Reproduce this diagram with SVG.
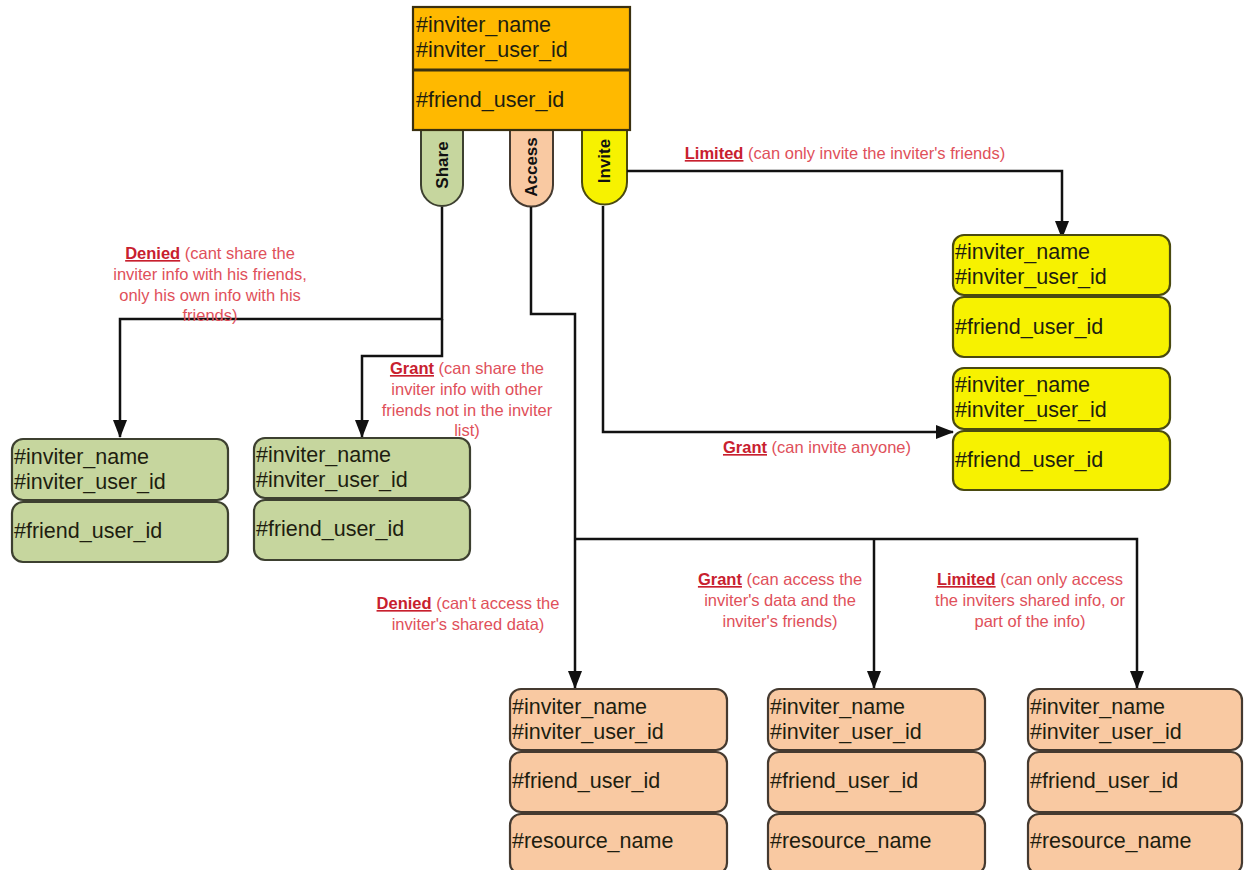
<svg xmlns="http://www.w3.org/2000/svg" width="1246" height="870" viewBox="0 0 1246 870">
<style>
.t{font-family:"Liberation Sans",Arial,sans-serif;font-size:21.5px;fill:#1e1e10}
.lb{font-family:"Liberation Sans",Arial,sans-serif;font-size:16.5px;fill:#e0505a;text-anchor:middle}
.k{font-weight:bold;fill:#c8202e;text-decoration:underline}
.pt{font-family:"Liberation Sans",Arial,sans-serif;font-size:17px;font-weight:bold;fill:#111;text-anchor:middle}
.g{fill:#c6d69e;stroke:#3d4030;stroke-width:2.2}
.y{fill:#f7f200;stroke:#4a4a10;stroke-width:2.2}
.p{fill:#f9c9a2;stroke:#453a30;stroke-width:2.2}
.c{fill:none;stroke:#111;stroke-width:2.5}
</style>
<defs>
<marker id="ah" viewBox="0 0 18 14" refX="17" refY="7" markerWidth="18" markerHeight="14" markerUnits="userSpaceOnUse" orient="auto">
<path d="M0,0 L18,7 L0,14 z" fill="#111"/>
</marker>
</defs>
<rect width="1246" height="870" fill="#fff"/>

<g id="pills">
<path d="M421,120 V185 A21,21 0 0 0 463,185 V120 Z" fill="#c6d69e" stroke="#3d4030" stroke-width="2"/>
<path d="M510,120 V185 A21.5,21.5 0 0 0 553,185 V120 Z" fill="#f9c9a2" stroke="#453a30" stroke-width="2"/>
<path d="M582,120 V182 A22.5,22.5 0 0 0 627,182 V120 Z" fill="#f7f200" stroke="#4a4a10" stroke-width="2"/>
<text class="pt" transform="translate(448,165) rotate(-90)">Share</text>
<text class="pt" transform="translate(537,167) rotate(-90)">Access</text>
<text class="pt" transform="translate(610,161) rotate(-90)">Invite</text>
</g>

<g id="main">
<rect x="413" y="7" width="217" height="123" fill="#ffb900" stroke="#3a3010" stroke-width="2.2"/>
<line x1="413" y1="70" x2="630" y2="70" stroke="#3a3010" stroke-width="3"/>
<text class="t" x="416" y="32">#inviter_name</text>
<text class="t" x="416" y="57">#inviter_user_id</text>
<text class="t" x="416" y="107">#friend_user_id</text>
</g>

<g id="connectors">
<path class="c" d="M442,207 V319 H120 V437" marker-end="url(#ah)"/>
<path class="c" d="M442,319 V356 H362 V437" marker-end="url(#ah)"/>
<path class="c" d="M531,207 V314 H575 V688" marker-end="url(#ah)"/>
<path class="c" d="M575,539 H1137 V688" marker-end="url(#ah)"/>
<path class="c" d="M874,539 V688" marker-end="url(#ah)"/>
<path class="c" d="M627,171 H1062 V238" marker-end="url(#ah)"/>
<path class="c" d="M603,206 V432 H953" marker-end="url(#ah)"/>
</g>

<g id="labels">
<text class="lb" x="845" y="159"><tspan class="k">Limited</tspan> (can only invite the inviter's friends)</text>
<text class="lb" x="210" y="259"><tspan class="k">Denied</tspan> (cant share the</text>
<text class="lb" x="210" y="280">inviter info with his friends,</text>
<text class="lb" x="210" y="301">only his own info with his</text>
<text class="lb" x="210" y="321">friends)</text>
<text class="lb" x="467" y="374"><tspan class="k">Grant</tspan> (can share the</text>
<text class="lb" x="467" y="395">inviter info with other</text>
<text class="lb" x="467" y="416">friends not in the inviter</text>
<text class="lb" x="467" y="436">list)</text>
<text class="lb" x="817" y="453"><tspan class="k">Grant</tspan> (can invite anyone)</text>
<text class="lb" x="468" y="609"><tspan class="k">Denied</tspan> (can't access the</text>
<text class="lb" x="468" y="630">inviter's shared data)</text>
<text class="lb" x="780" y="585"><tspan class="k">Grant</tspan> (can access the</text>
<text class="lb" x="780" y="606">inviter's data and the</text>
<text class="lb" x="780" y="627">inviter's friends)</text>
<text class="lb" x="1030" y="585"><tspan class="k">Limited</tspan> (can only access</text>
<text class="lb" x="1030" y="606">the inviters shared info, or</text>
<text class="lb" x="1030" y="627">part of the info)</text>
</g>

<g id="share-denied">
<rect class="g" x="12" y="439" width="216" height="61" rx="11"/>
<rect class="g" x="12" y="502" width="216" height="60" rx="11"/>
<text class="t" x="14" y="464">#inviter_name</text>
<text class="t" x="14" y="489">#inviter_user_id</text>
<text class="t" x="14" y="538">#friend_user_id</text>
</g>
<g id="share-grant">
<rect class="g" x="254" y="438" width="216" height="60" rx="11"/>
<rect class="g" x="254" y="500" width="216" height="60" rx="11"/>
<text class="t" x="256" y="462">#inviter_name</text>
<text class="t" x="256" y="487">#inviter_user_id</text>
<text class="t" x="256" y="536">#friend_user_id</text>
</g>

<g id="invite-limited">
<rect class="y" x="953" y="235" width="217" height="60" rx="11"/>
<rect class="y" x="953" y="297" width="217" height="60" rx="11"/>
<text class="t" x="955" y="259">#inviter_name</text>
<text class="t" x="955" y="284">#inviter_user_id</text>
<text class="t" x="955" y="334">#friend_user_id</text>
</g>
<g id="invite-grant">
<rect class="y" x="953" y="368" width="217" height="61" rx="11"/>
<rect class="y" x="953" y="431" width="217" height="59" rx="11"/>
<text class="t" x="955" y="392">#inviter_name</text>
<text class="t" x="955" y="417">#inviter_user_id</text>
<text class="t" x="955" y="467">#friend_user_id</text>
</g>

<g id="access-denied">
<rect class="p" x="510" y="689" width="217" height="61" rx="11"/>
<rect class="p" x="510" y="752" width="217" height="60" rx="11"/>
<rect class="p" x="510" y="814" width="217" height="60" rx="11"/>
<text class="t" x="512" y="714">#inviter_name</text>
<text class="t" x="512" y="739">#inviter_user_id</text>
<text class="t" x="512" y="788">#friend_user_id</text>
<text class="t" x="512" y="848">#resource_name</text>
</g>
<g id="access-grant">
<rect class="p" x="768" y="689" width="217" height="61" rx="11"/>
<rect class="p" x="768" y="752" width="217" height="60" rx="11"/>
<rect class="p" x="768" y="814" width="217" height="60" rx="11"/>
<text class="t" x="770" y="714">#inviter_name</text>
<text class="t" x="770" y="739">#inviter_user_id</text>
<text class="t" x="770" y="788">#friend_user_id</text>
<text class="t" x="770" y="848">#resource_name</text>
</g>
<g id="access-limited">
<rect class="p" x="1028" y="689" width="214" height="61" rx="11"/>
<rect class="p" x="1028" y="752" width="214" height="60" rx="11"/>
<rect class="p" x="1028" y="814" width="214" height="60" rx="11"/>
<text class="t" x="1030" y="714">#inviter_name</text>
<text class="t" x="1030" y="739">#inviter_user_id</text>
<text class="t" x="1030" y="788">#friend_user_id</text>
<text class="t" x="1030" y="848">#resource_name</text>
</g>
</svg>
